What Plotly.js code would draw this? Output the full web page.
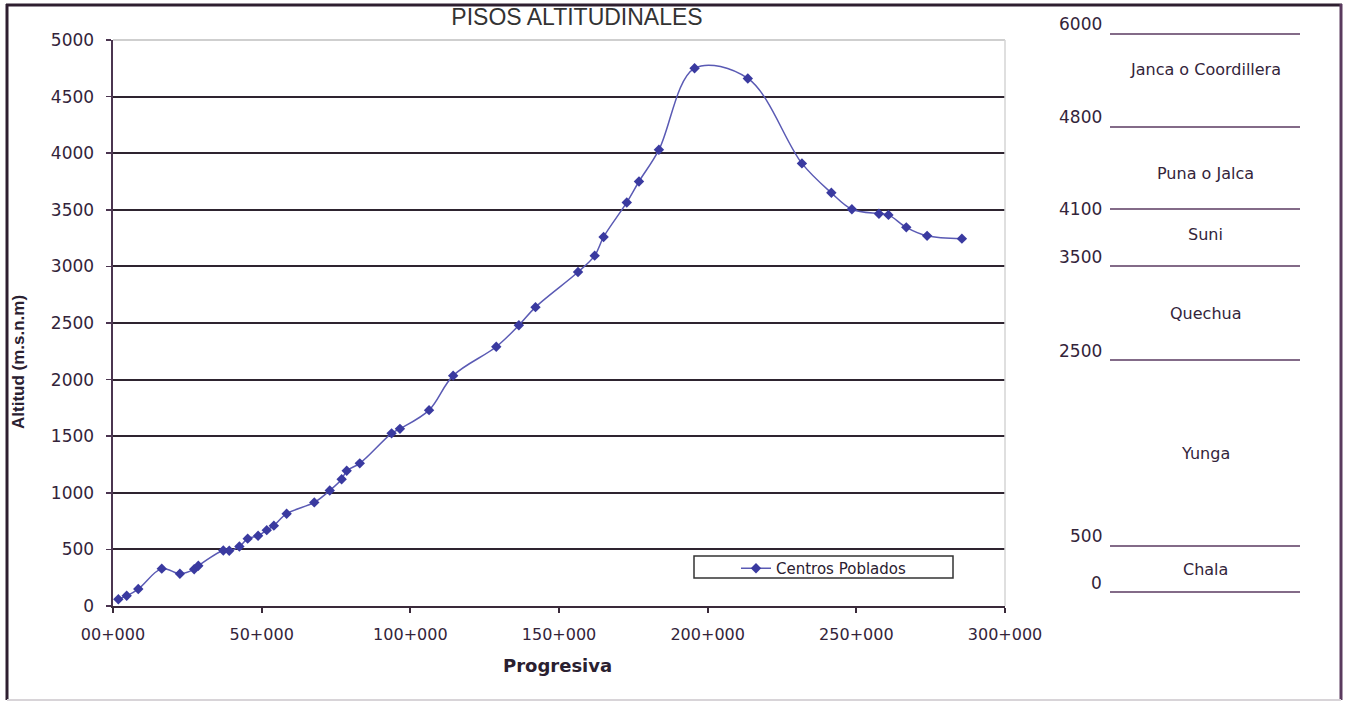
<!DOCTYPE html>
<html>
<head>
<meta charset="utf-8">
<script src="https://cdn.plot.ly/plotly-3.0.1.min.js"></script>
<style>
  html, body { margin: 0; padding: 0; background: #ffffff; }
  #chart { width: 1348px; height: 702px; }
</style>
</head>
<body>
<div id="chart"></div>
<script>
// Centros poblados a lo largo de la vía: progresiva (m) y altitud (m.s.n.m)
const progresiva = [
  1800, 4600, 8500, 16400, 22500, 27300, 28700, 37100, 39100, 42500,
  45300, 48800, 51700, 54100, 58400, 67700, 72900, 76900, 78600, 83000,
  93700, 96500, 106300, 114400, 128900, 136500, 142100, 156400, 162000, 165000,
  172800, 176900, 183600, 195600, 213500, 231700, 241600, 248500, 257600, 260800,
  266800, 273800, 285500
];
const altitud = [
  60, 90, 150, 330, 285, 325, 355, 490, 488, 525,
  595, 620, 670, 710, 815, 915, 1020, 1120, 1195, 1260,
  1525, 1565, 1730, 2035, 2290, 2480, 2640, 2950, 3095, 3260,
  3565, 3750, 4030, 4750, 4660, 3910, 3650, 3505, 3465, 3455,
  3345, 3270, 3245
];

// Ejes
const xTickVals = [0, 50000, 100000, 150000, 200000, 250000, 300000];
const xTickText = ["00+000", "50+000", "100+000", "150+000", "200+000", "250+000", "300+000"];
const yTickVals = [0, 500, 1000, 1500, 2000, 2500, 3000, 3500, 4000, 4500, 5000];

// Pisos altitudinales (límites y nombres)
const pisoLimites = ["6000", "4800", "4100", "3500", "2500", "500", "0"];
const pisoNombres = ["Janca o Coordillera", "Puna o Jalca", "Suni", "Quechua", "Yunga", "Chala"];

// Plot area in pixels, used to place items outside the axes
const L = 113, R = 1005, T = 40, B = 606;
const px = p => (p - L) / (R - L);
const py = q => (B - q) / (B - T);

const textColor = "#33243a";
const frameColor = "#2e1f30";

// Escala de pisos: posiciones verticales de líneas, números y nombres
const lineaY = [34, 127, 209, 266, 360, 546, 592];
const numeroY = [24, 117, 209, 257, 351, 536, 583];
const nombreY = [69, 173, 234, 313, 453, 569];

const shapes = [];
const annotations = [];

// Marco del gráfico
shapes.push({type: "line", xref: "paper", yref: "paper", x0: px(7), x1: px(7), y0: py(4), y1: py(700), line: {color: frameColor, width: 3}});
shapes.push({type: "line", xref: "paper", yref: "paper", x0: px(6), x1: px(1342), y0: py(5), y1: py(5), line: {color: frameColor, width: 3}});
shapes.push({type: "line", xref: "paper", yref: "paper", x0: px(1341), x1: px(1341), y0: py(4), y1: py(700), line: {color: "#5a3a5e", width: 3}});
shapes.push({type: "line", xref: "paper", yref: "paper", x0: px(7), x1: px(1341), y0: py(700), y1: py(700), line: {color: "#d8d4d8", width: 2}});

// Borde superior y derecho del área de trazado
shapes.push({type: "line", xref: "paper", yref: "paper", x0: 0, x1: 1, y0: 1, y1: 1, line: {color: "#cfcfcf", width: 2}});
shapes.push({type: "line", xref: "paper", yref: "paper", x0: 1, x1: 1, y0: 0, y1: 1, line: {color: "#d4d4d4", width: 1.5}});

// Recuadro de la leyenda
shapes.push({type: "rect", xref: "paper", yref: "paper", x0: px(694), x1: px(953), y0: py(556), y1: py(578), line: {color: "#333333", width: 1.5}, fillcolor: "rgba(0,0,0,0)"});

// Escala de pisos altitudinales
pisoLimites.forEach((lim, i) => {
  shapes.push({type: "line", xref: "paper", yref: "paper", x0: px(1110), x1: px(1300), y0: py(lineaY[i]), y1: py(lineaY[i]), line: {color: "#5a3a60", width: 1.5}});
  annotations.push({xref: "paper", yref: "paper", x: px(1104), y: py(numeroY[i]), xanchor: "right", yanchor: "middle", showarrow: false, text: lim, font: {family: "DejaVu Sans", size: 17, color: textColor}});
});
pisoNombres.forEach((nombre, i) => {
  annotations.push({xref: "paper", yref: "paper", x: px(1205), y: py(nombreY[i]), xanchor: "center", yanchor: "middle", showarrow: false, text: nombre, font: {family: "DejaVu Sans", size: 16, color: textColor}});
});

// Títulos de ejes
annotations.push({xref: "paper", yref: "paper", x: px(18), y: py(362), textangle: -90, xanchor: "center", yanchor: "middle", showarrow: false, text: "<b>Altitud (m.s.n.m)</b>", font: {family: "Liberation Sans", size: 17, color: "#2a2030"}});
annotations.push({xref: "paper", yref: "paper", x: px(557), y: py(665), xanchor: "center", yanchor: "middle", showarrow: false, text: "<b>Progresiva</b>", font: {family: "DejaVu Sans", size: 18, color: "#2a2030"}});

const trace = {
  type: "scatter",
  mode: "lines+markers",
  name: "Centros Poblados",
  x: progresiva,
  y: altitud,
  line: {color: "#5a5ab4", width: 1.5, shape: "spline", smoothing: 1},
  marker: {symbol: "diamond", size: 8, color: "#3a3aa0"},
  cliponaxis: false
};

const layout = {
  width: 1348,
  height: 702,
  margin: {l: L, r: 1348 - R, t: T, b: 702 - B, pad: 0},
  paper_bgcolor: "#ffffff",
  plot_bgcolor: "#ffffff",
  title: {
    text: "PISOS ALTITUDINALES",
    x: px(577), xref: "paper", xanchor: "center",
    y: 1 - 17 / 702, yref: "container", yanchor: "middle",
    font: {family: "Liberation Sans", size: 23, color: "#333333"}
  },
  xaxis: {
    range: [0, 300000],
    tickvals: xTickVals,
    ticktext: xTickText,
    ticks: "outside", ticklen: 5, tickwidth: 2, tickcolor: "#3a2a3a",
    ticklabelstandoff: 8,
    showline: true, linecolor: "#3a2a3a", linewidth: 2,
    showgrid: false, zeroline: false,
    tickfont: {family: "DejaVu Sans", size: 16, color: textColor}
  },
  yaxis: {
    range: [0, 5000],
    tickvals: yTickVals,
    ticks: "outside", ticklen: 5, tickwidth: 1.5, tickcolor: "#4b3550",
    ticklabelstandoff: 8,
    showline: true, linecolor: "#4b3550", linewidth: 2.5,
    showgrid: true, gridcolor: "#2e2430", gridwidth: 2,
    zeroline: false,
    tickfont: {family: "DejaVu Sans", size: 17, color: textColor}
  },
  showlegend: true,
  legend: {
    x: px(736), y: py(552), xanchor: "left", yanchor: "top",
    bgcolor: "rgba(0,0,0,0)", borderwidth: 0,
    font: {family: "DejaVu Sans", size: 15, color: "#2a2030"}
  },
  shapes: shapes,
  annotations: annotations
};

Plotly.newPlot("chart", [trace], layout, {staticPlot: true, displayModeBar: false});
</script>
</body>
</html>
